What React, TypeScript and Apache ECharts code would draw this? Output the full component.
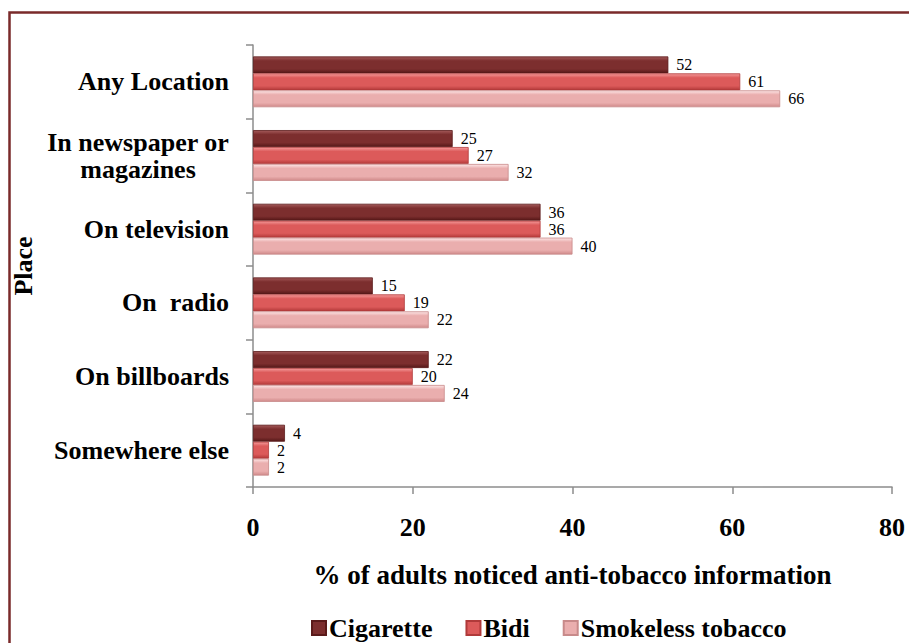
import React, { useEffect, useRef } from "react";
import * as echarts from "echarts";

const categories = [
  "Any Location",
  "In newspaper or\nmagazines",
  "On television",
  "On  radio",
  "On billboards",
  "Somewhere else",
];
const seriesNames = ["Cigarette", "Bidi", "Smokeless tobacco"];
const cigarette = [52, 25, 36, 15, 22, 4];
const bidi = [61, 27, 36, 19, 20, 2];
const smokeless = [66, 32, 40, 22, 24, 2];
const xTicks = [0, 20, 40, 60, 80];

const FONT = "'Liberation Serif', 'Times New Roman', serif";

function grad(top: string, mid: string, bottom: string) {
  return new echarts.graphic.LinearGradient(0, 0, 0, 1, [
    { offset: 0, color: top },
    { offset: 0.25, color: mid },
    { offset: 0.75, color: mid },
    { offset: 1, color: bottom },
  ]);
}

export default function App() {
  const ref = useRef<HTMLDivElement>(null);
  useEffect(() => {
    if (!ref.current) return;
    const chart = echarts.init(ref.current, null, { renderer: "svg" });
    const colors = [
      { fill: grad("#a45a5a", "#7c2e2e", "#561818"), legend: "#7c2e2e", border: "#5a1a1a" },
      { fill: grad("#f49a9a", "#dc5a5a", "#b43a3a"), legend: "#dc5a5a", border: "#b03a3a" },
      { fill: grad("#fde6e6", "#eaaeae", "#d08a8a"), legend: "#eaaeae", border: "#c88a8a" },
    ];
    const data = [cigarette, bidi, smokeless];
    const option: any = {
      animation: false,
      backgroundColor: "#ffffff",
      textStyle: { fontFamily: FONT },
      grid: { left: 253, right: 17, top: 45, bottom: 156, containLabel: false },
      legend: {
        top: 610,
        left: 306,
        itemWidth: 14,
        itemHeight: 14,
        itemGap: 33,
        icon: "rect",
        textStyle: {
          fontFamily: FONT,
          fontWeight: "bold",
          fontSize: 26,
          lineHeight: 26,
          color: "#000",
          padding: [0, 0, 0, -2],
        },
        data: seriesNames.map((n, i) => ({ name: n, itemStyle: { color: colors[i].legend } })),
      },
      xAxis: {
        type: "value",
        min: xTicks[0],
        max: xTicks[xTicks.length - 1],
        interval: 20,
        name: "% of adults noticed anti-tobacco information",
        nameLocation: "middle",
        nameGap: 74,
        nameTextStyle: { fontFamily: FONT, fontWeight: "bold", fontSize: 27, color: "#000" },
        axisLine: { show: true, lineStyle: { color: "#8c8c8c", width: 1.5 } },
        axisTick: { show: true, length: 7, lineStyle: { color: "#8c8c8c", width: 1.5 } },
        axisLabel: { margin: 27, fontFamily: FONT, fontWeight: "bold", fontSize: 26, color: "#000" },
        splitLine: { show: false },
      },
      yAxis: {
        type: "category",
        data: categories,
        inverse: true,
        name: "Place",
        nameLocation: "middle",
        nameRotate: 90,
        nameGap: 205,
        nameTextStyle: { fontFamily: FONT, fontWeight: "bold", fontSize: 26, color: "#000" },
        axisLine: { show: true, lineStyle: { color: "#8c8c8c", width: 1.5 } },
        axisTick: { show: true, length: 7, lineStyle: { color: "#8c8c8c", width: 1.5 } },
        axisLabel: {
          margin: 24,
          fontFamily: FONT,
          fontWeight: "bold",
          fontSize: 26,
          color: "#000",
          lineHeight: 27,
          formatter: (v: string) =>
            v
              .split("\n")
              .map((l) => `{c|${l}}`)
              .join("\n"),
          rich: {
            c: { fontFamily: FONT, fontWeight: "bold", fontSize: 26, color: "#000", align: "center", lineHeight: 27 },
          },
        },
      },
      series: seriesNames.map((n, i) => ({
        name: n,
        type: "bar",
        data: data[i],
        barGap: "0%",
        barCategoryGap: "31%",
        itemStyle: { color: colors[i].fill, borderColor: colors[i].border, borderWidth: 0.8 },
        label: {
          show: true,
          position: "right",
          distance: 8,
          fontFamily: FONT,
          fontSize: 16,
          lineHeight: 14,
          color: "#000",
        },
      })),
      graphic: [
        {
          type: "rect",
          shape: { x: 9.5, y: 12.5, width: 1000, height: 1000 },
          style: { fill: "none", stroke: "#7a2a2a", lineWidth: 2.5 },
          silent: true,
          z: 100,
        },
      ],
    };
    chart.setOption(option);
    return () => chart.dispose();
  }, []);
  return (
    <div
      ref={ref}
      style={{ position: "absolute", left: 0, top: 0, width: 909, height: 643 }}
    />
  );
}
